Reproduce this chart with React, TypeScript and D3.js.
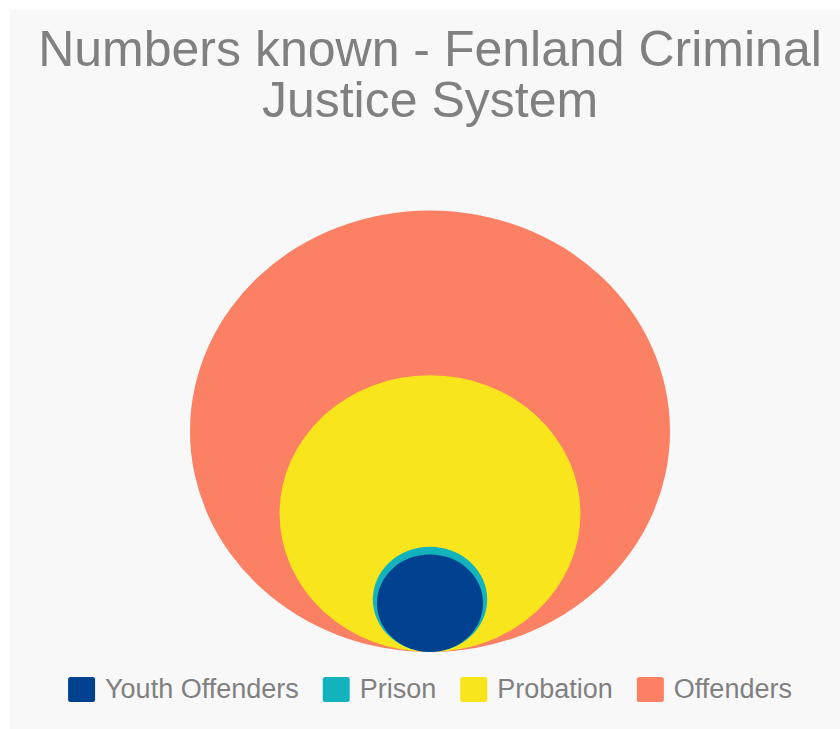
import { scaleSqrt, select } from "d3";
import { useEffect, useRef } from "react";

// nested bubbles, smallest drawn last
let categories = ["Youth Offenders", "Prison", "Probation", "Offenders"];
let values = [105, 122, 845, 2150];
let colors = ["#004190", "#12b3bc", "#f8e51c", "#fb8064"];
let titleLines = ["Numbers known - Fenland Criminal", "Justice System"];

let width = 840;
let height = 729;
let fontFamily = "'Liberation Sans', Arial, sans-serif";

export default function App() {
	let legendRef = useRef<SVGGElement>(null);

	let cx = 430;
	let bottom = 652;
	let squash = 0.92;

	let rScale = scaleSqrt()
		.domain([0, Math.max(...values)])
		.range([0, 240]);

	let bubbles = categories
		.map((name, i) => ({ name, value: values[i], color: colors[i] }))
		.sort((a, b) => b.value - a.value);

	useEffect(() => {
		let g = select(legendRef.current);
		g.selectAll("*").remove();
		let box = 27;
		let gapText = 10;
		let gapItem = 24;
		let items = g
			.selectAll("g.item")
			.data(categories)
			.join("g")
			.attr("class", "item");
		items
			.append("rect")
			.attr("width", box)
			.attr("height", 25)
			.attr("y", -12.5)
			.attr("rx", 2.5)
			.attr("fill", (d, i) => colors[i]);
		items
			.append("text")
			.attr("x", box + gapText)
			.attr("y", 8.5)
			.attr("font-size", 27)
			.attr("fill", "#808080")
			.attr("font-family", fontFamily)
			.text((d) => d);
		let widths: number[] = [];
		items.each(function () {
			let t = select(this).select("text").node() as SVGTextElement;
			widths.push(box + gapText + t.getComputedTextLength());
		});
		let total = widths.reduce((a, b) => a + b, 0) + gapItem * (widths.length - 1);
		let x = cx - total / 2;
		items.attr("transform", (d, i) => {
			let tx = x;
			x += widths[i] + gapItem;
			return `translate(${tx},689.5)`;
		});
	}, []);

	return (
		<svg
			width={width}
			height={height}
			style={{ position: "absolute", left: 0, top: 0 }}
		>
			<rect x={10} y={10} width={width} height={height} fill="#f8f8f8" />
			<g fontFamily={fontFamily} fill="#808080" textAnchor="middle" fontSize={50}>
				{titleLines.map((t, i) => (
					<text key={t} x={cx} y={66 + i * 51}>
						{t}
					</text>
				))}
			</g>
			<g>
				{bubbles.map((b) => {
					let rx = rScale(b.value);
					let ry = rx * squash;
					return (
						<ellipse
							key={b.name}
							cx={cx}
							cy={bottom - ry}
							rx={rx}
							ry={ry}
							fill={b.color}
						/>
					);
				})}
			</g>
			<g ref={legendRef}></g>
		</svg>
	);
}
